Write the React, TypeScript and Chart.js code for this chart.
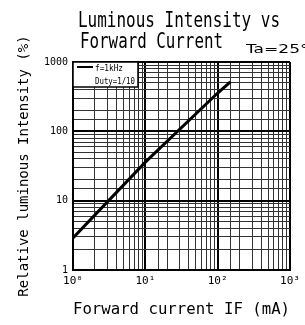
import React, { useEffect, useRef } from 'react';
import { Chart, registerables } from 'chart.js';

Chart.register(...registerables);

const forwardCurrent = [1, 10, 100, 150];
const relIntensity = [2.9, 36, 357, 515];
const yTickLabels = ['1', '10', '100', '1000'];
const xTickLabels = ['10\u2070', '10\u00b9', '10\u00b2', '10\u00b3'];
const titleLines = ['Luminous Intensity vs', 'Forward Current'];
const tempLabel = 'Ta=25\u00b0C';
const legendLines = ['f=1kHz', 'Duty=1/10'];
const xTitle = 'Forward current IF (mA)';
const yTitle = 'Relative luminous Intensity (%)';

function decadeIndex(v: number): number {
  const l = Math.log10(v);
  const r = Math.round(l);
  return Math.abs(l - r) < 1e-6 ? r : -1;
}

const overlay = {
  id: 'overlay',
  afterDraw(chart: any) {
    const ctx = chart.ctx as CanvasRenderingContext2D;
    const fit = (text: string, x: number, y: number, font: string, w: number, ref?: string) => {
      ctx.save();
      ctx.font = font;
      const m = ctx.measureText(ref ?? text).width;
      const s = w / m;
      ctx.translate(x, y);
      ctx.scale(s, 1);
      ctx.fillText(text, 0, 0);
      ctx.restore();
    };
    ctx.save();
    ctx.fillStyle = '#000';
    ctx.textAlign = 'left';
    ctx.textBaseline = 'alphabetic';
    fit(titleLines[0], 78, 27, '22px "DejaVu Sans Mono"', 202);
    fit(titleLines[1], 80, 48, '22px "DejaVu Sans Mono"', 143);
    fit(tempLabel, 246, 53, '12px "DejaVu Sans"', 54, 'Ta=25');

    const { left, top } = chart.chartArea;
    ctx.fillStyle = '#fff';
    ctx.fillRect(left, top, 65, 25);
    ctx.strokeStyle = '#000';
    ctx.lineWidth = 1.5;
    ctx.strokeRect(left, top, 65, 25);
    ctx.beginPath();
    ctx.lineWidth = 2;
    ctx.moveTo(left + 4, top + 5);
    ctx.lineTo(left + 20, top + 5);
    ctx.stroke();
    ctx.fillStyle = '#000';
    fit(legendLines[0], left + 22, top + 9, '9px "DejaVu Sans Mono"', 28);
    fit(legendLines[1], left + 22, top + 22, '9px "DejaVu Sans Mono"', 40);
    ctx.restore();
  },
};

const gridColor = (c: any) => {
  const v = c?.tick?.value;
  return v !== undefined && decadeIndex(v) >= 0 ? '#000' : '#333';
};
const gridWidth = (c: any) => {
  const v = c?.tick?.value;
  return v !== undefined && decadeIndex(v) >= 0 ? 2 : 1;
};

export default function App() {
  const ref = useRef<HTMLCanvasElement | null>(null);
  useEffect(() => {
    if (!ref.current) return;
    const chart = new Chart(ref.current, {
      type: 'line',
      data: {
        datasets: [
          {
            data: forwardCurrent.map((x, i) => ({ x, y: relIntensity[i] })),
            borderColor: '#000',
            borderWidth: 3,
            pointRadius: 0,
            tension: 0,
            fill: false,
          },
        ],
      },
      options: {
        animation: false,
        responsive: false,
        layout: { padding: { top: 62, right: 15, left: 0, bottom: 0 } },
        plugins: { legend: { display: false }, tooltip: { enabled: false }, title: { display: false } },
        scales: {
          x: {
            type: 'logarithmic',
            min: 1,
            max: 1000,
            position: 'bottom',
            afterFit: (s: any) => {
              s.height = 55;
            },
            grid: { color: gridColor, lineWidth: gridWidth, drawTicks: false },
            border: { color: '#000', width: 2 },
            ticks: {
              autoSkip: false,
              maxRotation: 0,
              minRotation: 0,
              padding: 5,
              color: '#000',
              font: { family: 'DejaVu Sans Mono', size: 11 },
              callback: (v: any) => {
                const d = decadeIndex(Number(v));
                return d >= 0 ? xTickLabels[d] : '';
              },
            },
            title: {
              display: true,
              text: xTitle,
              color: '#000',
              font: { family: 'DejaVu Sans Mono', size: 16 },
              padding: { top: 0, bottom: 6 },
            },
          },
          y: {
            type: 'logarithmic',
            min: 1,
            max: 1000,
            position: 'left',
            afterFit: (s: any) => {
              s.width = 73;
            },
            grid: { color: gridColor, lineWidth: gridWidth, drawTicks: false },
            border: { color: '#000', width: 2 },
            ticks: {
              autoSkip: false,
              padding: 5,
              color: '#000',
              font: { family: 'DejaVu Sans Mono', size: 10 },
              callback: (v: any) => {
                const d = decadeIndex(Number(v));
                return d >= 0 ? yTickLabels[d] : '';
              },
            },
            title: {
              display: true,
              text: yTitle,
              color: '#000',
              font: { family: 'DejaVu Sans Mono', size: 14 },
              padding: { top: 16, bottom: 0 },
            },
          },
        },
      },
      plugins: [overlay],
    } as any);
    return () => chart.destroy();
  }, []);
  return (
    <div style={{ position: 'fixed', left: 0, top: 0, width: 305, height: 325, background: '#fff' }}>
      <canvas ref={ref} width={305} height={325} style={{ display: 'block' }} />
    </div>
  );
}
